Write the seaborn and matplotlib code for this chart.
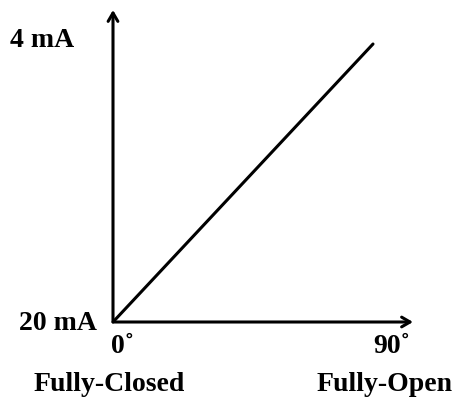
import matplotlib
matplotlib.use("Agg")
import matplotlib.pyplot as plt
import seaborn as sns
import pandas as pd

# Valve position vs. loop current
angle_deg = [0, 90]
current_ma = [20, 4]
angle_ticks = ["0\u02da", "90\u02da"]
angle_names = ["Fully-Closed", "Fully-Open"]
current_labels = ["20 mA", "4 mA"]

sns.set_style("white")
plt.rcParams['font.family'] = ['Liberation Serif', 'DejaVu Serif']
plt.rcParams['text.color'] = 'black'

W, H = 456, 401
fig = plt.figure(figsize=(W / 100, H / 100), dpi=100)
# origin at pixel (113, 322), arrow tips at x=413 and y=10
ax = fig.add_axes([113 / W, (H - 322) / H, (413 - 113) / W, (322 - 10) / H])

x_max = 90 + (413 - 373) / (373 - 113) * 90
y_top = 4 - (44 - 10) / (322 - 44) * 16
ax.set_xlim(0, x_max)
ax.set_ylim(20, y_top)

df = pd.DataFrame({"angle": angle_deg, "current": current_ma})
sns.lineplot(data=df, x="angle", y="current", color="black", linewidth=2.2, ax=ax)

for s in ax.spines.values():
    s.set_visible(False)
ax.set_xticks([])
ax.set_yticks([])
ax.set_xlabel("")
ax.set_ylabel("")

arrow = dict(arrowstyle="->,head_length=0.6,head_width=0.35", color="black", lw=2.2,
             shrinkA=0, shrinkB=0)
ax.annotate("", xy=(x_max, 20), xytext=(0, 20), arrowprops=arrow, annotation_clip=False)
ax.annotate("", xy=(0, y_top), xytext=(0, 20), arrowprops=arrow, annotation_clip=False)

fs = 20
txt = dict(textcoords="offset pixels", ha="center", va="center", fontsize=fs,
           fontweight="bold", color="black", annotation_clip=False)

# current labels on the left
for lab, val, off in zip(current_labels, current_ma, [(-55, -1), (-71, 4)]):
    ax.annotate(lab, xy=(0, val), xytext=off, **txt)
# angle labels below
for tick, val, off in zip(angle_ticks, angle_deg, [(10, -24), (19, -24)]):
    ax.annotate(tick, xy=(val, 20), xytext=off, **txt)
for name, val, off in zip(angle_names, angle_deg, [(-4, -62), (12, -62)]):
    ax.annotate(name, xy=(val, 20), xytext=off, **txt)

fig.savefig("out.png", dpi=100)
